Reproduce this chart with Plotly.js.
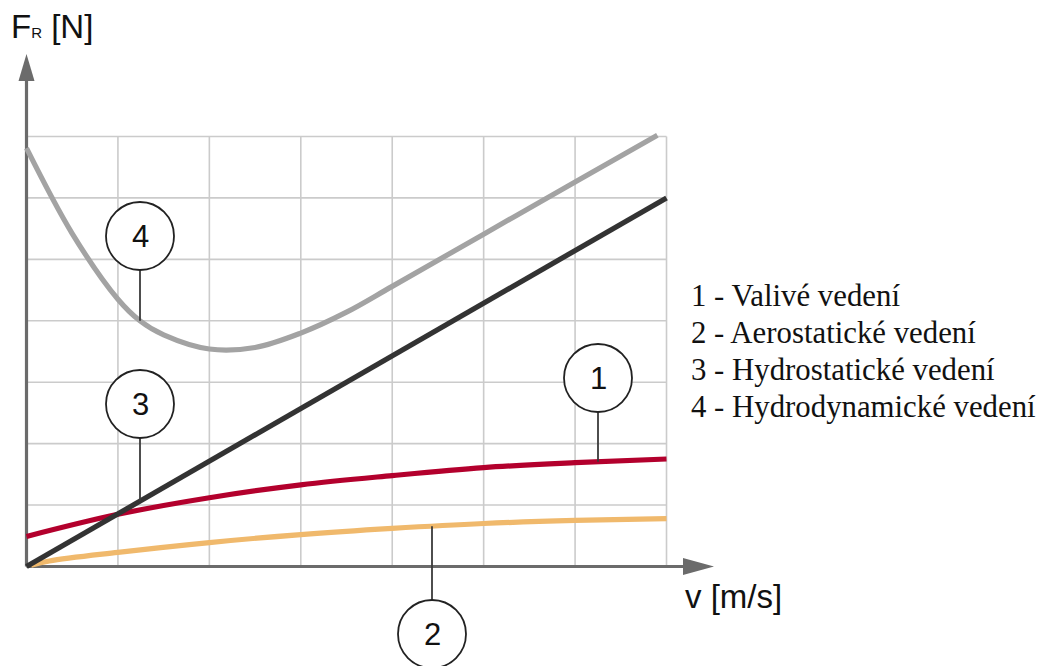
<!DOCTYPE html>
<html><head><meta charset="utf-8">
<script src="https://cdn.plot.ly/plotly-3.0.1.min.js"></script>
<style>html,body{margin:0;padding:0;background:#fff;}#chart{width:1040px;height:666px;}</style>
</head><body><div id="chart"></div>
<script>
// ---- data ----
const gridX = [0, 1, 2, 3, 4, 5, 6, 7];
const gridY = [0, 1, 2, 3, 4, 5, 6, 7];

// 1 - Valivé vedení (red)
const v1 = [0, 1, 2, 3, 4, 5, 6, 7];
const f1 = [0.49, 0.85, 1.12, 1.33, 1.48, 1.61, 1.69, 1.75];
// 2 - Aerostatické vedení (orange)
const v2 = [0.05, 0.25, 1, 2, 3, 4, 5, 6, 7];
const f2 = [0.02, 0.09, 0.23, 0.39, 0.52, 0.62, 0.70, 0.75, 0.78];
// 3 - Hydrostatické vedení (black)
const v3 = [0, 7];
const f3 = [0, 6];
// 4 - Hydrodynamické vedení (grey)
const v4 = [0, 0.5, 1.0, 1.24, 1.5, 2.0, 2.5, 3.0, 3.5, 4.0, 5.0, 6.0, 6.9];
const f4 = [6.81, 5.42, 4.35, 4.0, 3.77, 3.54, 3.565, 3.80, 4.14, 4.56, 5.41, 6.26, 7.02];

const legendLines = ['1 - Valivé vedení', '2 - Aerostatické vedení', '3 - Hydrostatické vedení', '4 - Hydrodynamické vedení'];
const yTitle = 'F<span style="font-size:15px">R</span> [N]';
const xTitle = 'v [m/s]';

// ---- geometry helpers (pixel -> axis units) ----
const G = {ox: 26.5, oy: 566.5, ux: 91.43, uy: 61.43, W: 1040, H: 666};
const dx = px => (px - G.ox) / G.ux;
const dy = py => (G.oy - py) / G.uy;

function interp(xs, ys, x) {
  for (let i = 0; i < xs.length - 1; i++) {
    if (x >= xs[i] && x <= xs[i + 1]) {
      const t = (x - xs[i]) / (xs[i + 1] - xs[i]);
      return ys[i] + t * (ys[i + 1] - ys[i]);
    }
  }
  return ys[ys.length - 1];
}

const series = {
  '1': {x: v1, y: f1, color: '#b3002d'},
  '2': {x: v2, y: f2, color: '#f0b96c'},
  '3': {x: v3, y: f3, color: '#333333'},
  '4': {x: v4, y: f4, color: '#a3a3a3'}
};

// callout circles: label = curve, circle centre in pixels
const callouts = [
  {label: '4', cx: 140, cy: 236},
  {label: '3', cx: 140, cy: 404},
  {label: '1', cx: 598, cy: 378},
  {label: '2', cx: 432, cy: 634}
];

const traces = ['4', '1', '2', '3'].map(k => ({
  type: 'scatter', mode: 'lines', x: series[k].x, y: series[k].y,
  line: {color: series[k].color, width: 5.2, shape: k === '3' ? 'linear' : 'spline', smoothing: 1},
  hoverinfo: 'skip'
}));

const shapes = [];
const gridColor = '#cbcbcb';
gridX.forEach(g => { if (g > 0) shapes.push({type: 'line', layer: 'below', x0: g, x1: g, y0: 0, y1: gridY[gridY.length - 1], line: {color: gridColor, width: 1.6}}); });
gridY.forEach(g => { if (g > 0) shapes.push({type: 'line', layer: 'below', x0: 0, x1: gridX[gridX.length - 1], y0: g, y1: g, line: {color: gridColor, width: 1.6}}); });

const axisColor = '#6b6b6b';
shapes.push({type: 'line', layer: 'below', x0: 0, x1: dx(690), y0: 0, y1: 0, line: {color: axisColor, width: 3.2}});
shapes.push({type: 'line', layer: 'below', x0: 0, x1: 0, y0: 0, y1: dy(70), line: {color: axisColor, width: 3.2}});
shapes.push({type: 'path', layer: 'below', fillcolor: axisColor, line: {width: 0},
  path: `M ${dx(683)},${dy(558)} L ${dx(714)},${dy(566.5)} L ${dx(683)},${dy(575)} Z`});
shapes.push({type: 'path', layer: 'below', fillcolor: axisColor, line: {width: 0},
  path: `M ${dx(18.5)},${dy(81)} L ${dx(26.5)},${dy(54)} L ${dx(34.5)},${dy(81)} Z`});

const annotations = [];
const R = 34;
callouts.forEach(c => {
  const s = series[c.label];
  const xv = dx(c.cx);
  const yCurve = interp(s.x, s.y, xv);
  const yc = dy(c.cy);
  const yEdge = yc > yCurve ? dy(c.cy + R) : dy(c.cy - R);
  shapes.push({type: 'line', layer: 'above', x0: xv, x1: xv, y0: yEdge, y1: yCurve, line: {color: '#3a3a3a', width: 1.8}});
  shapes.push({type: 'circle', layer: 'above', xsizemode: 'pixel', ysizemode: 'pixel', xanchor: xv, yanchor: yc,
    x0: -R, x1: R, y0: -R, y1: R, fillcolor: '#ffffff', line: {color: '#222222', width: 1.8}});
  annotations.push({x: xv, y: yc, text: c.label, showarrow: false, xanchor: 'center', yanchor: 'middle', borderpad: 0,
    font: {family: 'Liberation Sans, Arial, sans-serif', size: 31, color: '#111'}});
});

legendLines.forEach((t, i) => {
  annotations.push({x: dx(690), y: dy(296 + i * 37), text: t, showarrow: false, xanchor: 'left', yanchor: 'middle', borderpad: 0,
    font: {family: 'Liberation Serif, Times New Roman, serif', size: 30.8, color: '#111'}});
});
annotations.push({x: dx(10), y: dy(26), text: yTitle, showarrow: false, xanchor: 'left', yanchor: 'middle', borderpad: 0,
  font: {family: 'Liberation Sans, Arial, sans-serif', size: 33, color: '#111'}});
annotations.push({x: dx(684), y: dy(596), text: xTitle, showarrow: false, xanchor: 'left', yanchor: 'middle', borderpad: 0,
  font: {family: 'Liberation Sans, Arial, sans-serif', size: 33, color: '#111'}});

const layout = {
  width: G.W, height: G.H, autosize: false,
  margin: {l: 0, r: 0, t: 0, b: 0, pad: 0},
  paper_bgcolor: '#fff', plot_bgcolor: '#fff',
  showlegend: false,
  xaxis: {range: [dx(0), dx(G.W)], visible: false, fixedrange: true},
  yaxis: {range: [dy(G.H), dy(0)], visible: false, fixedrange: true},
  shapes: shapes, annotations: annotations
};
Plotly.newPlot('chart', traces, layout, {displayModeBar: false, staticPlot: true});
</script></body></html>
